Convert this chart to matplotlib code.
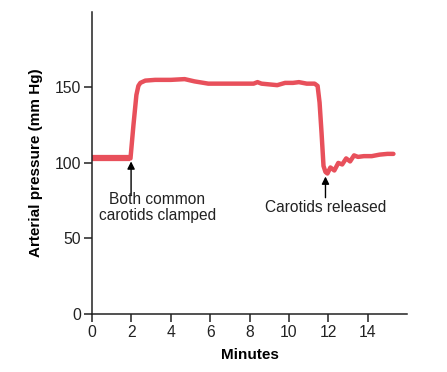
import matplotlib.pyplot as plt

plt.rcParams['font.family'] = ['Liberation Sans', 'DejaVu Sans']

# pressure trace (minutes, mm Hg)
minutes = [0, 0.5, 1.0, 1.5, 1.95, 2.1, 2.25, 2.35, 2.45, 2.7, 3.2, 4.0, 4.7, 5.2, 5.9,
           6.5, 7.5, 8.2, 8.4, 8.6, 9.0, 9.4, 9.8, 10.2, 10.5, 10.9, 11.3, 11.45,
           11.55, 11.65, 11.75, 11.85, 11.95, 12.1, 12.3, 12.5, 12.7, 12.9, 13.1, 13.3,
           13.5, 13.8, 14.2, 14.6, 15.0, 15.3]
pressure = [103, 103, 103, 103, 103, 125, 145, 151, 153, 154.5, 155, 155, 155.5, 154, 152.5,
            152.5, 152.5, 152.5, 153.5, 152.5, 152, 151.5, 153, 153, 153.5, 152.5, 152.5, 151,
            140, 120, 98, 94, 93, 97, 95, 100, 99, 103, 101, 105,
            104, 104.5, 104.5, 105.5, 106, 106]

fig = plt.figure(figsize=(4.47, 3.72), dpi=100)
ax = fig.add_axes([0.206, 0.156, 0.705, 0.812])

ax.plot(minutes, pressure, color='#e8505b', lw=3.2, solid_capstyle='round',
        solid_joinstyle='round')
ax.plot([0, 1.95], [103, 103], color='#e8505b', lw=4.5, solid_capstyle='butt')

ax.set_xlim(0, 16)
ax.set_ylim(0, 200)
ax.set_xticks([0, 2, 4, 6, 8, 10, 12, 14])
ax.set_yticks([0, 50, 100, 150])
ax.spines['top'].set_visible(False)
ax.spines['right'].set_visible(False)
for s in ['left', 'bottom']:
    ax.spines[s].set_linewidth(1.1)
    ax.spines[s].set_color('#222222')
ax.tick_params(length=6, width=1.1, labelsize=11.3, colors='#222222', pad=2)

ax.set_xlabel('Minutes', fontsize=11, fontweight='bold', labelpad=6)
ax.set_ylabel('Arterial pressure (mm Hg)', fontsize=11, fontweight='bold', labelpad=8)

arrow = dict(arrowstyle='-|>', color='black', lw=1.0, mutation_scale=11, shrinkA=0, shrinkB=0)
ax.annotate('', xy=(1.98, 101), xytext=(1.98, 79), arrowprops=arrow)
ax.text(3.3, 70.5, 'Both common\ncarotids clamped', ha='center', va='center',
        fontsize=11.2, linespacing=1.1, color='#222222')
ax.annotate('', xy=(11.85, 91), xytext=(11.85, 77), arrowprops=arrow)
ax.text(11.85, 70.5, 'Carotids released', ha='center', va='center',
        fontsize=11.2, color='#222222')

fig.savefig('out.png', dpi=100)
